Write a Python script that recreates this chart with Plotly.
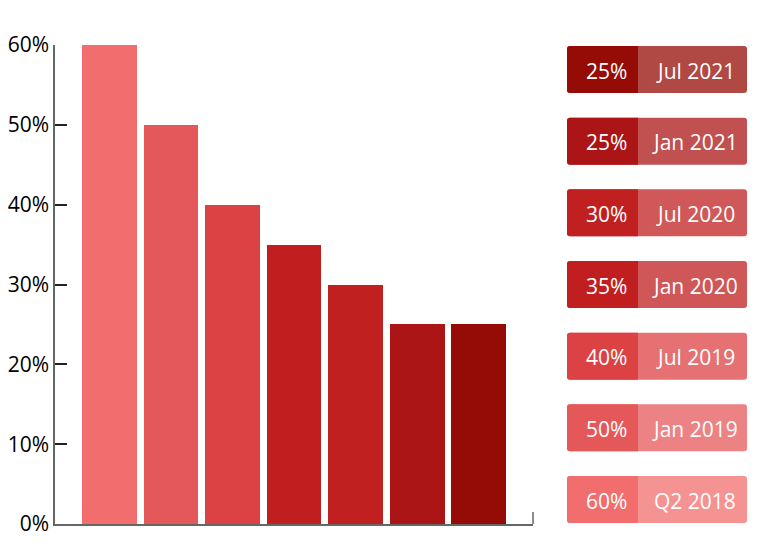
import plotly.graph_objects as go

# ---- data ----
periods = ["Q2 2018", "Jan 2019", "Jul 2019", "Jan 2020", "Jul 2020", "Jan 2021", "Jul 2021"]
values = [60, 50, 40, 35, 30, 25, 25]
colors = ["#F26D6E", "#E5585A", "#DC4244", "#C11F1F", "#C12020", "#AC1515", "#950B05"]
y_ticks = [0, 10, 20, 30, 40, 50, 60]
y_tick_labels = [f"{v}%" for v in y_ticks]

W, H = 760, 548
L, R, T, B = 55, 227, 45, 24
PW, PH = W - L - R, H - T - B
FONT = "Open Sans"


def lighten(hexc, f=0.25):
    h = hexc.lstrip("#")
    r, g, b = (int(h[i:i + 2], 16) for i in (0, 2, 4))
    r, g, b = (round(c + (255 - c) * f) for c in (r, g, b))
    return f"rgb({r},{g},{b})"


def px(x):
    return (x - L) / PW


def py(y):
    return (H - B - y) / PH


def rounded_path(x0, y0, x1, y1, rl, rr):
    pts = []
    pts.append(f"M {px(x0 + rl)},{py(y0)}")
    pts.append(f"L {px(x1 - rr)},{py(y0)}")
    if rr:
        pts.append(f"Q {px(x1)},{py(y0)} {px(x1)},{py(y0 + rr)}")
    pts.append(f"L {px(x1)},{py(y1 - rr)}")
    if rr:
        pts.append(f"Q {px(x1)},{py(y1)} {px(x1 - rr)},{py(y1)}")
    pts.append(f"L {px(x0 + rl)},{py(y1)}")
    if rl:
        pts.append(f"Q {px(x0)},{py(y1)} {px(x0)},{py(y1 - rl)}")
    pts.append(f"L {px(x0)},{py(y0 + rl)}")
    if rl:
        pts.append(f"Q {px(x0)},{py(y0)} {px(x0 + rl)},{py(y0)}")
    pts.append("Z")
    return " ".join(pts)


fig = go.Figure()
fig.add_trace(go.Bar(
    x=list(range(len(values))),
    y=values,
    marker=dict(color=colors, line=dict(width=0)),
    width=0.894,
    showlegend=False,
    hoverinfo="skip",
))

shapes = []
annotations = []
# right-end tick of the x axis
shapes.append(dict(type="line", xref="paper", yref="paper",
                   x0=px(533), x1=px(533), y0=py(524), y1=py(512),
                   line=dict(color="#666666", width=1.5)))

n = len(values)
for k in range(n):
    i = n - 1 - k  # top box is last period
    cy = 69.5 + k * 71.67
    y0, y1 = cy - 23.5, cy + 23.5
    shapes.append(dict(type="path", xref="paper", yref="paper",
                       path=rounded_path(567, y0, 747, y1, 3, 3),
                       fillcolor=lighten(colors[i]), line=dict(width=0), layer="above"))
    shapes.append(dict(type="path", xref="paper", yref="paper",
                       path=rounded_path(567, y0, 638, y1, 3, 0),
                       fillcolor=colors[i], line=dict(width=0), layer="above"))
    annotations.append(dict(xref="paper", yref="paper", x=px(606), y=py(cy + 1), text=f"{values[i]}%",
                            showarrow=False, xanchor="center", yanchor="middle",
                            font=dict(family=FONT, size=21, color="white")))
    annotations.append(dict(xref="paper", yref="paper", x=px(695), y=py(cy + 1), text=periods[i],
                            showarrow=False, xanchor="center", yanchor="middle",
                            font=dict(family=FONT, size=21, color="white")))

fig.update_layout(
    width=W, height=H,
    margin=dict(l=L, r=R, t=T, b=B, pad=0, autoexpand=False),
    paper_bgcolor="white", plot_bgcolor="white",
    font=dict(family=FONT, size=21, color="#000000"),
    bargap=0,
    shapes=shapes,
    annotations=annotations,
    xaxis=dict(range=[-0.886, n - 1 + 0.886], showline=True, linecolor="#666666", linewidth=1.5,
               showgrid=False, zeroline=False, showticklabels=False, ticks="", fixedrange=True,
               automargin=False),
    yaxis=dict(range=[0, 60], tickvals=y_ticks, ticktext=y_tick_labels, showline=True,
               linecolor="#666666", linewidth=1.5, ticks="inside", ticklen=12, tickwidth=1.5,
               tickcolor="#222222", showgrid=False, zeroline=False, automargin=False,
               tickfont=dict(family=FONT, size=21, color="#000000"), fixedrange=True),
)

fig.write_html("out.html")
